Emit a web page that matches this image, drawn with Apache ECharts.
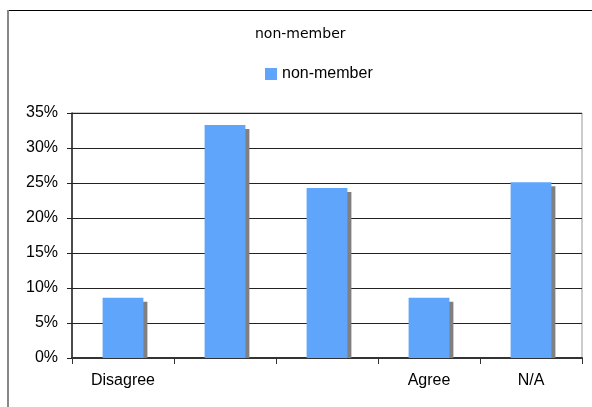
<!DOCTYPE html>
<html>
<head>
<meta charset="utf-8">
<script src="https://cdn.jsdelivr.net/npm/echarts@6/dist/echarts.min.js"></script>
<style>
html,body{margin:0;padding:0;background:#fff;}
#chart{width:592px;height:407px;}
</style>
</head>
<body>
<div id="chart"></div>
<script>
var categories = ['Disagree', '', '', 'Agree', 'N/A'];
var seriesName = 'non-member';
var values = [8.6, 33.3, 24.3, 8.6, 25.1];
var yTicks = [0, 5, 10, 15, 20, 25, 30, 35];

var chart = echarts.init(document.getElementById('chart'));
var axisFont = 'Liberation Sans, Arial, sans-serif';

chart.setOption({
  animation: false,
  backgroundColor: '#fff',
  title: {
    text: 'non-member',
    left: 250, top: 22,
    textStyle: {fontFamily: 'DejaVu Sans, Verdana, sans-serif', fontSize: 14, fontWeight: 'normal', color: '#000'}
  },
  legend: {
    data: [seriesName],
    left: 260, top: 61,
    itemWidth: 12, itemHeight: 12,
    icon: 'rect',
    textStyle: {fontFamily: axisFont, fontSize: 16, color: '#000'}
  },
  graphic: [
    {type: 'line', shape: {x1: 7, y1: 10.5, x2: 600, y2: 10.5}, style: {stroke: '#000', lineWidth: 1}},
    {type: 'line', shape: {x1: 8, y1: 10, x2: 8, y2: 420}, style: {stroke: '#888', lineWidth: 2}}
  ],
  grid: {left: 72, right: 10, top: 113, bottom: 49, show: true, borderColor: '#999', borderWidth: 1, backgroundColor: 'transparent'},
  xAxis: {
    type: 'category',
    data: categories,
    axisLine: {lineStyle: {color: '#333', width: 2}},
    axisTick: {show: true, length: 6, lineStyle: {color: '#333'}},
    axisLabel: {fontFamily: axisFont, fontSize: 16, color: '#000', margin: 15, interval: 0},
    splitLine: {show: false}
  },
  yAxis: {
    type: 'value',
    min: 0, max: 35, interval: 5,
    axisLine: {show: true, lineStyle: {color: '#222', width: 1.5}},
    axisTick: {show: true, length: 5, lineStyle: {color: '#222'}},
    axisLabel: {fontFamily: axisFont, fontSize: 16, color: '#000', margin: 14, formatter: function(v){ return yTicks.indexOf(v) >= 0 ? v + '%' : ''; }},
    splitLine: {show: true, lineStyle: {color: '#222', width: 1}}
  },
  series: [
    {
      name: 'shadow',
      type: 'custom',
      z: 1,
      silent: true,
      data: values.map(function(v, i){ return [i, v]; }),
      renderItem: function(params, api) {
        var top = api.coord([api.value(0), api.value(1)]);
        var base = api.coord([api.value(0), 0]);
        var w = api.size([1, 0])[0] * 0.4;
        var off = 4;
        return {
          type: 'rect',
          shape: {x: top[0] - w / 2 + off, y: top[1] + off, width: w, height: base[1] - top[1] - off},
          style: {fill: '#808080'}
        };
      }
    },
    {
      name: seriesName,
      type: 'bar',
      z: 3,
      barWidth: '40%',
      data: values,
      itemStyle: {color: '#5FA5FB'}
    }
  ]
});
</script>
</body>
</html>
